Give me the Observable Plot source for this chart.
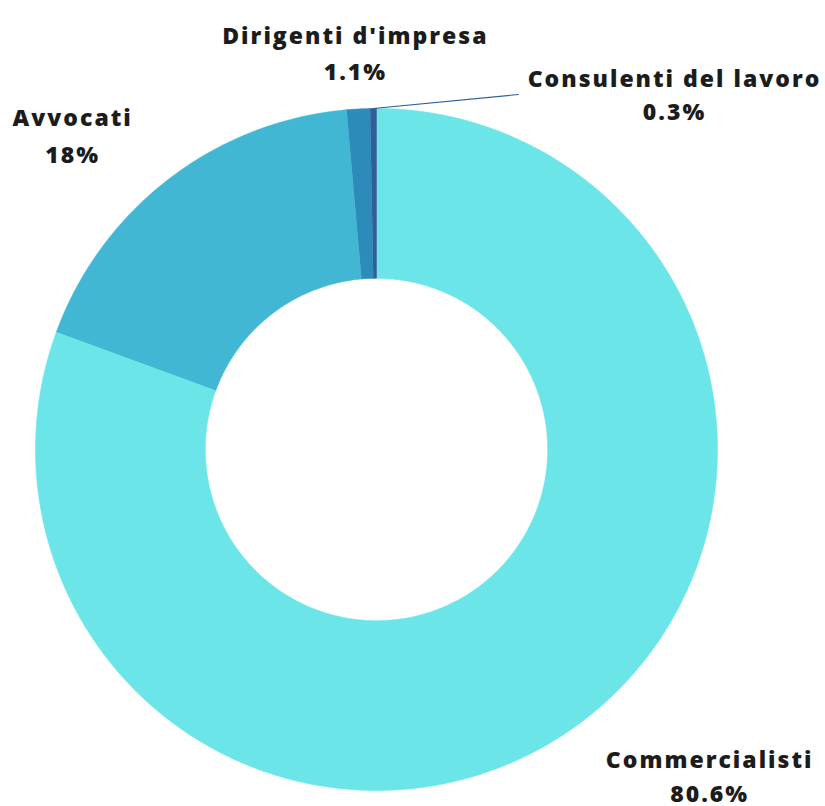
<!DOCTYPE html>
<html><head><meta charset="utf-8">
<script src="https://cdn.jsdelivr.net/npm/d3@7"></script>
<script src="https://cdn.jsdelivr.net/npm/@observablehq/plot@0.6"></script>
<style>body{margin:0;background:#fff}</style>
</head><body><div id="chart"></div>
<script>
// ---- data ----
const categories = ["Commercialisti", "Avvocati", "Dirigenti d'impresa", "Consulenti del lavoro"];
const shares = [80.6, 18, 1.1, 0.3];
const valueLabels = ["80.6%", "18%", "1.1%", "0.3%"];
const colors = ["#6ce5e8", "#41b7d4", "#2d8bba", "#2f5f98"];
// label placement (radius units from centre, x right / y up): name baseline
const labelX = [0.977, -0.891, -0.062, 0.874];
const labelY = [-0.933, 0.950, 1.188, 1.062];
const valueDy = [34, 37, 36, 33];
// connector (only for the thin "Consulenti" slice)
const connectorIndex = 3;
const connectorEnd = [0.416, 1.041];

// ---- geometry ----
const innerR = 0.502;
const total = d3.sum(shares);
const poly = [];
let acc = 0;
const angles = [];
shares.forEach((v, i) => {
  const a0 = acc / total * 2 * Math.PI;
  acc += v;
  const a1 = acc / total * 2 * Math.PI;
  angles.push([a0, a1]);
  const n = Math.max(4, Math.ceil((a1 - a0) / (Math.PI / 360)));
  for (let k = 0; k <= n; k++) {
    const a = a0 + (a1 - a0) * k / n;
    poly.push({name: categories[i], x: Math.sin(a), y: Math.cos(a)});
  }
  for (let k = n; k >= 0; k--) {
    const a = a0 + (a1 - a0) * k / n;
    poly.push({name: categories[i], x: innerR * Math.sin(a), y: innerR * Math.cos(a)});
  }
});

const labels = categories.map((c, i) => ({name: c, value: valueLabels[i], x: labelX[i], y: labelY[i], dy: valueDy[i]}));
const [ca0, ca1] = angles[connectorIndex];
const cm = (ca0 + ca1) / 2;
const connector = [
  {x: Math.sin(cm), y: Math.cos(cm)},
  {x: connectorEnd[0], y: connectorEnd[1]}
];

const font = {fontFamily: "'Open Sans', sans-serif", fontSize: 23, fontWeight: 800, fill: "#1c1c1c"};

const chart = Plot.plot({
  width: 825,
  height: 806,
  margin: 0,
  style: {letterSpacing: "2px"},
  x: {domain: [-1, 1], range: [35, 717], axis: null},
  y: {domain: [-1, 1], range: [790, 108], axis: null},
  color: {domain: categories, range: colors},
  marks: [
    Plot.line(poly, {x: "x", y: "y", z: "name", fill: "name", stroke: "name", strokeWidth: 0.6, curve: "linear"}),
    Plot.line(connector, {x: "x", y: "y", stroke: colors[connectorIndex], strokeWidth: 1.2}),
    Plot.text(labels, {x: "x", y: "y", text: "name", textAnchor: "middle", lineAnchor: "bottom", ...font}),
    ...labels.map(l => Plot.text([l], {x: "x", y: "y", text: "value", dy: l.dy, textAnchor: "middle", lineAnchor: "bottom", ...font}))
  ]
});
document.getElementById("chart").append(chart);
</script>
</body></html>
